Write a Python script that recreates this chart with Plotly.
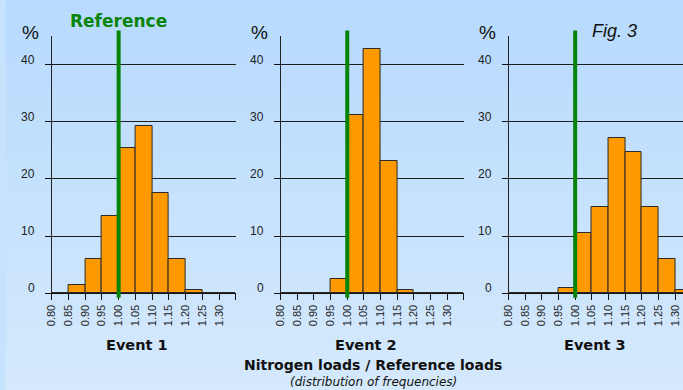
import plotly.graph_objects as go

# ---------------- data ----------------
bin_labels = ["0.80", "0.85", "0.90", "0.95", "1.00", "1.05", "1.10",
              "1.15", "1.20", "1.25", "1.30"]
bin_edges = [0.80, 0.85, 0.90, 0.95, 1.00, 1.05, 1.10, 1.15, 1.20, 1.25, 1.30, 1.35]
event1 = [0, 1.5, 6.0, 13.5, 25.5, 29.2, 17.6, 6.0, 0.5, 0, 0]
event2 = [0, 0, 0, 2.5, 31.2, 42.8, 23.2, 0.5, 0, 0, 0]
event3 = [0, 0, 0, 1.0, 10.5, 15.1, 27.2, 24.7, 15.1, 6.0, 0.5]
event_names = ["Event 1", "Event 2", "Event 3"]
y_ticks = [0, 10, 20, 30, 40]
reference_value = 1.00
bin_width = 0.05

W, H = 683, 390
series = [event1, event2, event3]
x_domains = [[46 / W, 232 / W], [277 / W, 462 / W], [507 / W, 1.0]]
x_ranges = [[0.80, 1.35], [0.80, 1.35], [0.80, 1.3238]]
y_dom = [(H - 293.3) / H, (H - 36) / H]
title_x = [132, 363, 594]

fig = go.Figure()
shapes = []
annotations = []

# background gradient (stepped)
top = (183, 218, 254)
bot = (212, 233, 252)
N = 60
for i in range(N):
    t = i / (N - 1)
    c = tuple(int(round(top[k] + (bot[k] - top[k]) * t)) for k in range(3))
    shapes.append(dict(type="rect", xref="paper", yref="paper",
                       x0=0, x1=1, y0=1 - (i + 1) / N, y1=1 - i / N + 0.002,
                       fillcolor="rgb(%d,%d,%d)" % c, line=dict(width=0),
                       layer="below"))

for p in range(3):
    xa = "x" if p == 0 else "x%d" % (p + 1)
    ya = "y" if p == 0 else "y%d" % (p + 1)
    fig.add_trace(go.Bar(
        x=bin_edges[:-1], y=series[p], width=bin_width, offset=0,
        marker=dict(color="#FF9900", line=dict(color="#2a2a2a", width=1)),
        xaxis=xa, yaxis=ya, showlegend=False, hoverinfo="skip"))
    lay_x = "xaxis" if p == 0 else "xaxis%d" % (p + 1)
    lay_y = "yaxis" if p == 0 else "yaxis%d" % (p + 1)
    fig.layout[lay_x] = dict(
        domain=x_domains[p], range=x_ranges[p], anchor=ya,
        tickmode="array", tickvals=bin_edges, ticktext=bin_labels + [""],
        tickangle=-90, ticks="outside", ticklen=6, tickcolor="#111",
        showline=True, linecolor="#111", linewidth=1.2,
        showgrid=False, zeroline=False,
        tickfont=dict(family="Liberation Sans, Arial", size=11, color="#222"))
    fig.layout[lay_y] = dict(
        domain=y_dom, range=[0, 45], anchor=xa,
        tickmode="array", tickvals=y_ticks, showticklabels=False,
        ticks="outside", ticklen=6, tickcolor="#111",
        showline=True, linecolor="#222", linewidth=1,
        showgrid=True, gridcolor="#1e1e1e", gridwidth=1, zeroline=False)
    # y tick labels (raised above the grid lines)
    for v in y_ticks:
        annotations.append(dict(xref=xa + " domain", yref=ya, x=0, y=v,
                                xanchor="right", yanchor="middle",
                                xshift=-15, yshift=5, showarrow=False,
                                text=str(v),
                                font=dict(family="Liberation Sans, Arial",
                                          size=12, color="#222")))
    # % label
    annotations.append(dict(xref=xa + " domain", yref="paper", x=0,
                            y=(H - 32) / H, xanchor="center", yanchor="middle",
                            xshift=-21, showarrow=False, text="%",
                            font=dict(family="Liberation Sans, Arial", size=19,
                                      color="#111")))
    # reference line
    shapes.append(dict(type="line", xref=xa, yref="paper",
                       x0=reference_value, x1=reference_value,
                       y0=(H - 297.7) / H, y1=(H - 30.5) / H,
                       line=dict(color="#078407", width=4), layer="above"))
    # event title
    annotations.append(dict(xref="paper", yref="paper", x=title_x[p] / W,
                            y=(H - 345) / H, xanchor="center", yanchor="middle",
                            showarrow=False, text="<b>%s</b>" % event_names[p],
                            font=dict(family="Comic Sans MS, DejaVu Sans",
                                      size=14.5, color="#111")))

annotations += [
    dict(xref="paper", yref="paper", x=370 / W, y=(H - 365) / H,
         xanchor="center", yanchor="middle", showarrow=False,
         text="<b>Nitrogen loads / Reference loads</b>",
         font=dict(family="Comic Sans MS, DejaVu Sans", size=14, color="#111")),
    dict(xref="paper", yref="paper", x=371 / W, y=(H - 382) / H,
         xanchor="center", yanchor="middle", showarrow=False,
         text="<i>(distribution of frequencies)</i>",
         font=dict(family="Comic Sans MS, DejaVu Sans", size=12, color="#111")),
    dict(xref="paper", yref="paper", x=113.5 / W, y=(H - 20.5) / H,
         xanchor="center", yanchor="middle", showarrow=False,
         text="<b>Reference</b>",
         font=dict(family="Comic Sans MS, DejaVu Sans", size=17, color="#0a840a")),
    dict(xref="paper", yref="paper", x=613.5 / W, y=(H - 30.5) / H,
         xanchor="center", yanchor="middle", showarrow=False,
         text="<i>Fig. 3</i>",
         font=dict(family="Liberation Sans, Arial", size=18, color="#111")),
]

fig.update_layout(
    width=W, height=H, margin=dict(l=0, r=0, t=0, b=0),
    paper_bgcolor="rgb(198,226,253)", plot_bgcolor="rgba(0,0,0,0)",
    bargap=0, shapes=shapes, annotations=annotations, showlegend=False)

fig.write_html(
    "out.html", config={"displayModeBar": False},
    post_script="document.body.style.margin='0px';"
                "document.body.style.padding='0px';"
                "document.body.style.overflow='hidden';")
